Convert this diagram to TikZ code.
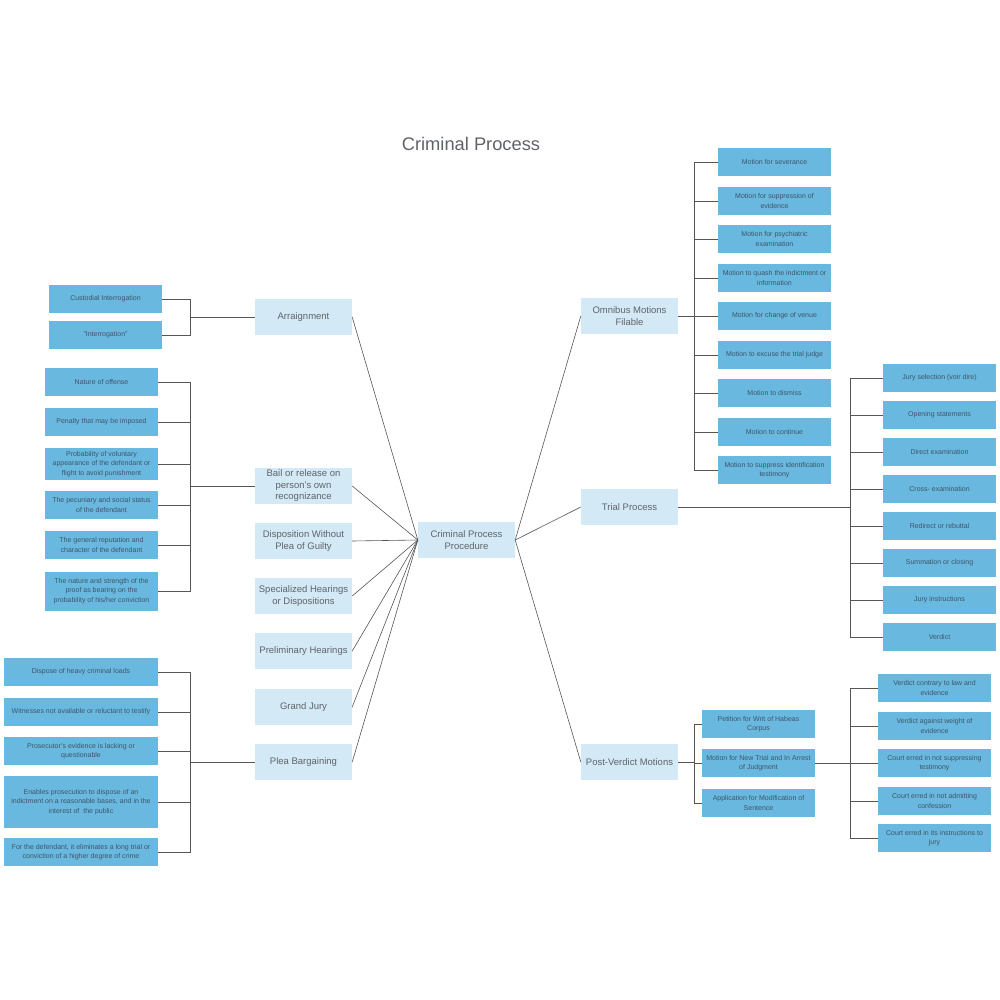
\documentclass[tikz,border=0pt]{standalone}
\usepackage{fontspec}
\setmainfont{Liberation Sans}
\definecolor{paleblue}{HTML}{D3E9F6}
\definecolor{leafblue}{HTML}{69B8E0}
\definecolor{txtgray}{HTML}{5F6368}
\definecolor{leaftxt}{HTML}{3F5566}
\definecolor{linegray}{HTML}{555555}
\tikzset{
  stage/.style={fill=paleblue, text=txtgray, font=\fontsize{9.5}{11.5}\selectfont,
    align=center, minimum width=97pt, minimum height=36pt, inner sep=1pt},
  leaf/.style={fill=leafblue, text=leaftxt, font=\fontsize{7}{9.2}\selectfont,
    align=center, minimum width=113pt, minimum height=28pt, inner sep=1pt},
  link/.style={draw=linegray, line width=0.8pt},
  spoke/.style={draw=linegray, line width=0.6pt}
}
\begin{document}
\begin{tikzpicture}[x=1pt, y=-1pt]
\useasboundingbox (0,0) rectangle (1000,1000);
% Title
\node[text=txtgray, font=\fontsize{18.3}{21}\selectfont] (title) at (471,144) {Criminal Process};

% Centre
\node[stage] (proc) at (466.5,540) {Criminal Process\\Procedure};

% Left stages
\node[stage] (arr) at (303.5,317) {Arraignment};
\node[stage] (bail) at (303.5,486) {Bail or release on\\person's own\\recognizance};
\node[stage] (disp) at (303.5,541) {Disposition Without\\Plea of Guilty};
\node[stage] (spec) at (303.5,596) {Specialized Hearings\\or Dispositions};
\node[stage] (prel) at (303.5,651) {Preliminary Hearings};
\node[stage] (gj) at (303.5,707) {Grand Jury};
\node[stage] (plea) at (303.5,762) {Plea Bargaining};
\foreach \s in {arr, bail, disp, spec, prel, gj, plea} {
    \draw[spoke] (\s.east) -- (proc.west);
}

% Right stages
\node[stage] (omni) at (629.5,316) {Omnibus Motions\\Filable};
\node[stage] (trial) at (629.5,507) {Trial Process};
\node[stage] (post) at (629.5,762) {Post-Verdict Motions};
\foreach \s in {omni, trial, post} {
    \draw[spoke] (proc.east) -- (\s.west);
}

% Arraignment
\coordinate (arrJ) at (190,317);
\draw[link] (arr.west) -- (arrJ);
\foreach \i/\y/\t in {1/299/{Custodial Interrogation}, 2/335/{"Interrogation"}} {
    \node[leaf] (arr\i) at (105.5,\y) {\t};
    \draw[link] (arr\i.east) -| (arrJ);
}

% Bail
\coordinate (bailJ) at (190,486);
\draw[link] (bail.west) -- (bailJ);
\foreach \i/\y/\h/\t in {1/382/28/{Nature of offense},
    2/422/28/{Penalty that may be imposed},
    3/464/32/{Probability of voluntary\\appearance of the defendant or\\flight to avoid punishment},
    4/505/28/{The pecuniary and social status\\of the defendant},
    5/545/28/{The general reputation and\\character of the defendant},
    6/591/39/{The nature and strength of the\\proof as bearing on the\\probability of his/her conviction}} {
    \node[leaf, minimum height=\h pt] (bail\i) at (101.5,\y) {\t};
    \draw[link] (bail\i.east) -| (bailJ);
}

% Plea bargaining
\coordinate (pleaJ) at (190,762);
\draw[link] (plea.west) -- (pleaJ);
\foreach \i/\y/\h/\t in {1/672/28/{Dispose of heavy criminal loads},
    2/712/28/{Witnesses not available or reluctant to testify},
    3/751/28/{Prosecutor's evidence is lacking or\\questionable},
    4/802/52/{Enables prosecution to dispose of an\\indictment on a reasonable bases, and in the\\interest of\ \ the public},
    5/852/28/{For the defendant, it eliminates a long trial or\\conviction of a higher degree of crime}} {
    \node[leaf, minimum width=154pt, minimum height=\h pt] (plea\i) at (81,\y) {\t};
    \draw[link] (plea\i.east) -| (pleaJ);
}

% Omnibus motions
\coordinate (omniJ) at (694,316);
\draw[link] (omni.east) -- (omniJ);
\foreach \i/\y/\t in {1/162/{Motion for severance},
    2/201/{Motion for suppression of\\evidence},
    3/239/{Motion for psychiatric\\examination},
    4/278/{Motion to quash the indictment or\\information},
    5/316/{Motion for change of venue},
    6/355/{Motion to excuse the trial judge},
    7/393/{Motion to dismiss},
    8/432/{Motion to continue},
    9/470/{Motion to suppress identification\\testimony}} {
    \node[leaf] (omni\i) at (774.5,\y) {\t};
    \draw[link] (omni\i.west) -| (omniJ);
}

% Trial process
\coordinate (trialJ) at (850,507);
\draw[link] (trial.east) -- (trialJ);
\foreach \i/\y/\t in {1/378/{Jury selection (voir dire)},
    2/415/{Opening statements},
    3/452/{Direct examination},
    4/489/{Cross- examination},
    5/526/{Redirect or rebuttal},
    6/563/{Summation or closing},
    7/600/{Jury instructions},
    8/637/{Verdict}} {
    \node[leaf] (trial\i) at (939.5,\y) {\t};
    \draw[link] (trial\i.west) -| (trialJ);
}

% Post-verdict motions
\coordinate (postJ) at (694,762);
\draw[link] (post.east) -- (postJ);
\foreach \i/\y/\t in {1/724/{Petition for Writ of Habeas\\Corpus},
    2/763/{Motion for New Trial and In Arrest\\of Judgment},
    3/803/{Application for Modification of\\Sentence}} {
    \node[leaf] (post\i) at (758.5,\y) {\t};
    \draw[link] (post\i.west) -| (postJ);
}

% New trial grounds
\coordinate (newJ) at (850,763);
\draw[link] (post2.east) -- (newJ);
\foreach \i/\y/\t in {1/688/{Verdict contrary to law and\\evidence},
    2/726/{Verdict against weight of\\evidence},
    3/763/{Court erred in not suppressing\\testimony},
    4/801/{Court erred in not admitting\\confession},
    5/838/{Court erred in its instructions to\\jury}} {
    \node[leaf] (new\i) at (934.5,\y) {\t};
    \draw[link] (new\i.west) -| (newJ);
}

\end{tikzpicture}
\end{document}
